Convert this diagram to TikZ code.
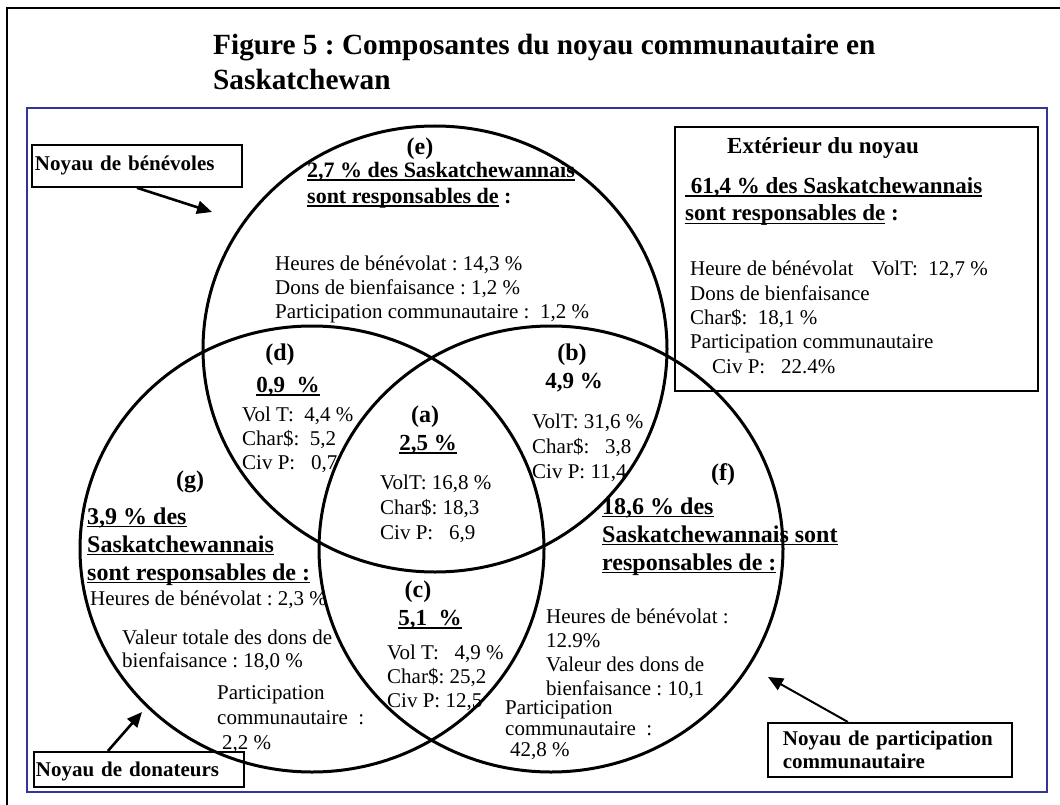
\documentclass[tikz,border=0pt]{standalone}
\usepackage{fontspec}
\setmainfont{Liberation Serif}
\usetikzlibrary{arrows.meta}
\frenchspacing
\definecolor{framecol}{RGB}{51,51,153}
\newsavebox{\ulbox}
\newcommand{\ulbar}[1]{\sbox{\ulbox}{#1}\leavevmode\rlap{\rule[-3pt]{\wd\ulbox}{1.5pt}}\usebox{\ulbox}}
\tikzset{
    ring/.style={line width=3pt},
    tag/.style={font=\fontsize{24}{28}\selectfont\bfseries, inner sep=0pt},
    pct/.style={font=\fontsize{23}{27}\selectfont\bfseries, inner sep=0pt},
    body/.style={font=\fontsize{21}{24}\selectfont, align=left, anchor=base west, inner sep=0pt},
    head/.style={font=\fontsize{24}{28}\selectfont\bfseries, align=left, anchor=base west, inner sep=0pt},
    core/.style={draw, line width=1.8pt, font=\fontsize{21}{23}\selectfont\bfseries, align=left, anchor=north west, inner ysep=0pt, inner xsep=3pt},
    pointer/.style={line width=2.6pt, -{Triangle[length=15pt,width=13pt]}},
}

\begin{document}
\begin{tikzpicture}[x=1pt,y=-1pt]
  \useasboundingbox (0,0) rectangle (1060,805);

  % frames
  \draw[line width=2.6pt] (7,812) -- (7,8) -- (1066,8);
  \draw[framecol, line width=2pt] (27,108) rectangle (1047,792);

  % title (node base = baseline of its last line)
  \node[font=\fontsize{29.3}{35}\selectfont\bfseries, align=left, anchor=base west, inner sep=0pt] (title) at (213,90) {Figure 5 : Composantes du noyau communautaire en\\Saskatchewan};

  % the three cores
  \coordinate (cTop) at (435,349);
  \coordinate (cLeft) at (312,549);
  \coordinate (cRight) at (551,549);
  \draw[ring] (cTop) ellipse [x radius=232, y radius=223];
  \draw[ring] (cLeft) ellipse [x radius=232, y radius=223];
  \draw[ring] (cRight) ellipse [x radius=232, y radius=223];

  % Core boxes
  \node[core, minimum width=210pt, minimum height=42pt, text width=204pt] (benevoles) at (31,144) {Noyau de bénévoles};
  \node[core, minimum width=210pt, minimum height=35pt, text width=206pt, inner xsep=2pt, text depth=0pt] (donateurs) at (33,751) {Noyau de donateurs};
  \node[core, minimum width=244pt, minimum height=54pt, text width=214pt, inner xsep=15pt] (participation) at (767,722) {Noyau de participation\\communautaire};
  \node[draw, line width=1.8pt, minimum width=363pt, minimum height=264pt, anchor=north west, inner sep=0pt] (exterieur) at (674,126) {};

  % Arrows to the cores
  \coordinate (benTip) at (212,212);
  \coordinate (donTip) at (142,712);
  \coordinate (parTip) at (768,677);
  \draw[pointer] (benevoles.south) -- (benTip);
  \draw[pointer] ([xshift=-31pt]donateurs.north) -- (donTip);
  \draw[pointer, line width=2pt] ([xshift=-42pt]participation.north) -- (parTip);

  % Outside the cores
  \node[head, font=\fontsize{23}{27}\selectfont\bfseries] (extTitle) at (727,154) {Extérieur du noyau};
  \node[head, font=\fontsize{23}{27}\selectfont\bfseries] (extHead) at (685,221) {\ulbar{\ 61,4 \% des Saskatchewannais}\\\ulbar{sont responsables de} :};
  \node[body, font=\fontsize{21}{24.3}\selectfont] (extTxt) at (690,373) {Heure de bénévolat\hspace{18pt}VolT:\ \ 12,7 \%\\Dons de bienfaisance\\Char\$:\ \ 18,1 \%\\Participation communautaire\\\hspace*{22pt}Civ P:\ \ \ 22.4\%};

  % (e)
  \node[tag] (lblE) at (420,149) {(e)};
  \node[head, font=\fontsize{22}{26}\selectfont\bfseries] (headE) at (307,204) {\ulbar{2,7 \% des Saskatchewannais}\\\ulbar{sont responsables de} :};
  \node[body] (txtE) at (275,318) {Heures de bénévolat : 14,3 \%\\Dons de bienfaisance : 1,2 \%\\Participation communautaire :\ \ 1,2 \%};

  % (d)
  \node[tag] (lblD) at (280,355) {(d)};
  \node[pct] (pctD) at (288,387) {\ulbar{0,9\ \ \%}};
  \node[body] (txtD) at (242,469) {Vol T:\ \ 4,4 \%\\Char\$:\ \ 5,2\\Civ P:\ \ \ 0,7};

  % (a)
  \node[tag] (lblA) at (425,417) {(a)};
  \node[pct] (pctA) at (428,445) {\ulbar{2,5 \%}};
  \node[body, font=\fontsize{21}{25}\selectfont] (txtA) at (380,539) {VolT: 16,8 \%\\Char\$: 18,3\\Civ P:\ \ \ 6,9};

  % (b)
  \node[tag] (lblB) at (572,355) {(b)};
  \node[pct] (pctB) at (574,383) {4,9 \%};
  \node[body, font=\fontsize{21}{25}\selectfont] (txtB) at (532,478) {VolT: 31,6 \%\\Char\$:\ \ \ 3,8\\Civ P: 11,4};

  % (c)
  \node[tag] (lblC) at (418,592) {(c)};
  \node[pct] (pctC) at (430,620) {\ulbar{5,1\ \ \%}};
  \node[body] (txtC) at (387,707) {Vol T:\ \ \ 4,9 \%\\Char\$: 25,2\\Civ P: 12,5};

  % (g)
  \node[tag] (lblG) at (190,482) {(g)};
  \node[head] (headG) at (87,580) {\ulbar{3,9 \% des}\\\ulbar{Saskatchewannais}\\\ulbar{sont responsables de :}};
  \node[body] (txtG1) at (90,605) {Heures de bénévolat : 2,3 \%};
  \node[body, font=\fontsize{21}{23}\selectfont] (txtG2) at (122,667) {Valeur totale des dons de\\bienfaisance : 18,0 \%};
  \node[body, font=\fontsize{21}{25}\selectfont] (txtG3) at (217,749) {Participation\\communautaire\ \ :\\\hspace*{5pt}2,2 \%};

  % (f)
  \node[tag] (lblF) at (723,475) {(f)};
  \node[head] (headF) at (602,570) {\ulbar{18,6 \% des}\\\ulbar{Saskatchewannais sont}\\\ulbar{responsables de :}};
  \node[body] (txtF1) at (546,695) {Heures de bénévolat :\\12.9\%\\Valeur des dons de\\bienfaisance : 10,1};
  \node[body, font=\fontsize{21}{21}\selectfont] (txtF2) at (505,756) {Participation\\communautaire\ \ :\\\hspace*{5pt}42,8 \%};

\end{tikzpicture}
\end{document}
